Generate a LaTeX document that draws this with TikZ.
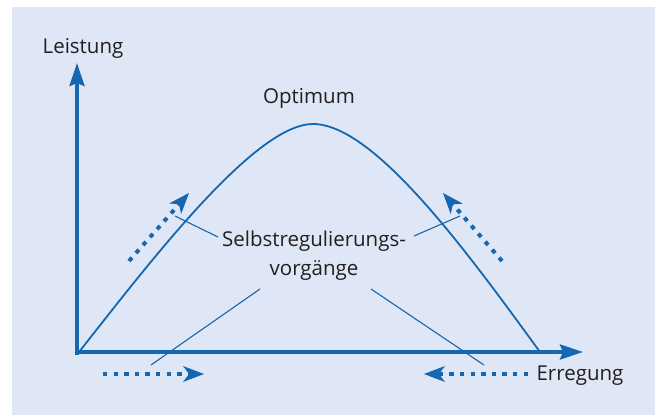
\documentclass[tikz,border=0pt]{standalone}
\usepackage{fontspec}
\setmainfont{Open Sans}
\usetikzlibrary{arrows.meta}
\definecolor{panel}{HTML}{DFE6F5}
\definecolor{cblue}{HTML}{1467B0}
\definecolor{ctext}{HTML}{231F20}
\tikzset{
  axis/.style={cblue, line width=3.6pt, -{Stealth[length=23pt,width=15pt,inset=3pt]}},
  curve/.style={cblue, line width=1.8pt},
  leader/.style={cblue, line width=1.1pt},
  dotarrow/.style={cblue, line width=4pt, dash pattern=on 4.4pt off 6.2pt, -{Stealth[length=21pt,width=16pt,inset=6pt,line width=0pt]}},
  lbl/.style={text=ctext, font=\fontsize{20.5}{29}\selectfont, inner sep=0pt},
}
\begin{document}
\begin{tikzpicture}[x=1pt,y=-1pt]
\useasboundingbox (0,0) rectangle (655,415);
\fill[panel] (12,7) rectangle (655,415);
% axes
\coordinate (O) at (77,352);
\coordinate (Ytip) at (77,63);
\coordinate (Xtip) at (583,352);
\draw[axis] (77,355) -- (Ytip);
\draw[axis] (75,352) -- (Xtip);
% curve
\coordinate (c0) at (79,352);
\coordinate (peak) at (313,124);
\coordinate (c1) at (540,352);
\draw[curve] (c0) .. controls (150,262) and (255,124) .. (peak)
  .. controls (375,124) and (470,256) .. (c1);
% labels
\node[lbl] (leistung) at (83,48) {Leistung};
\node[lbl] (optimum) at (309,98) {Optimum};
\node[lbl, align=center] (selbst) at (314,256) {Selbstregulierungs-\\vorgänge};
\node[lbl] (erregung) at (580,376) {Erregung};
% leader ends
\coordinate (l1) at (175,216);
\coordinate (l2) at (460,216);
\coordinate (l3) at (151,365);
\coordinate (l4) at (484,365);
\coordinate (s1) at (218,237);
\coordinate (s2) at (414,236);
\coordinate (s3) at (260,289);
\coordinate (s4) at (371,289);
\draw[leader] (s1) -- (l1);
\draw[leader] (s2) -- (l2);
\draw[leader] (s3) -- (l3);
\draw[leader] (s4) -- (l4);
% dotted arrows
\coordinate (a1s) at (129,261);
\coordinate (a1e) at (189,193);
\coordinate (a2s) at (502,261);
\coordinate (a2e) at (443,193);
\coordinate (a3s) at (103,374);
\coordinate (a3e) at (204,374);
\coordinate (a4s) at (528,374);
\coordinate (a4e) at (424,374);
\draw[dotarrow] (a1s) -- (a1e);
\draw[dotarrow] (a2s) -- (a2e);
\draw[dotarrow] (a3s) -- (a3e);
\draw[dotarrow] (a4s) -- (a4e);
\end{tikzpicture}
\end{document}
